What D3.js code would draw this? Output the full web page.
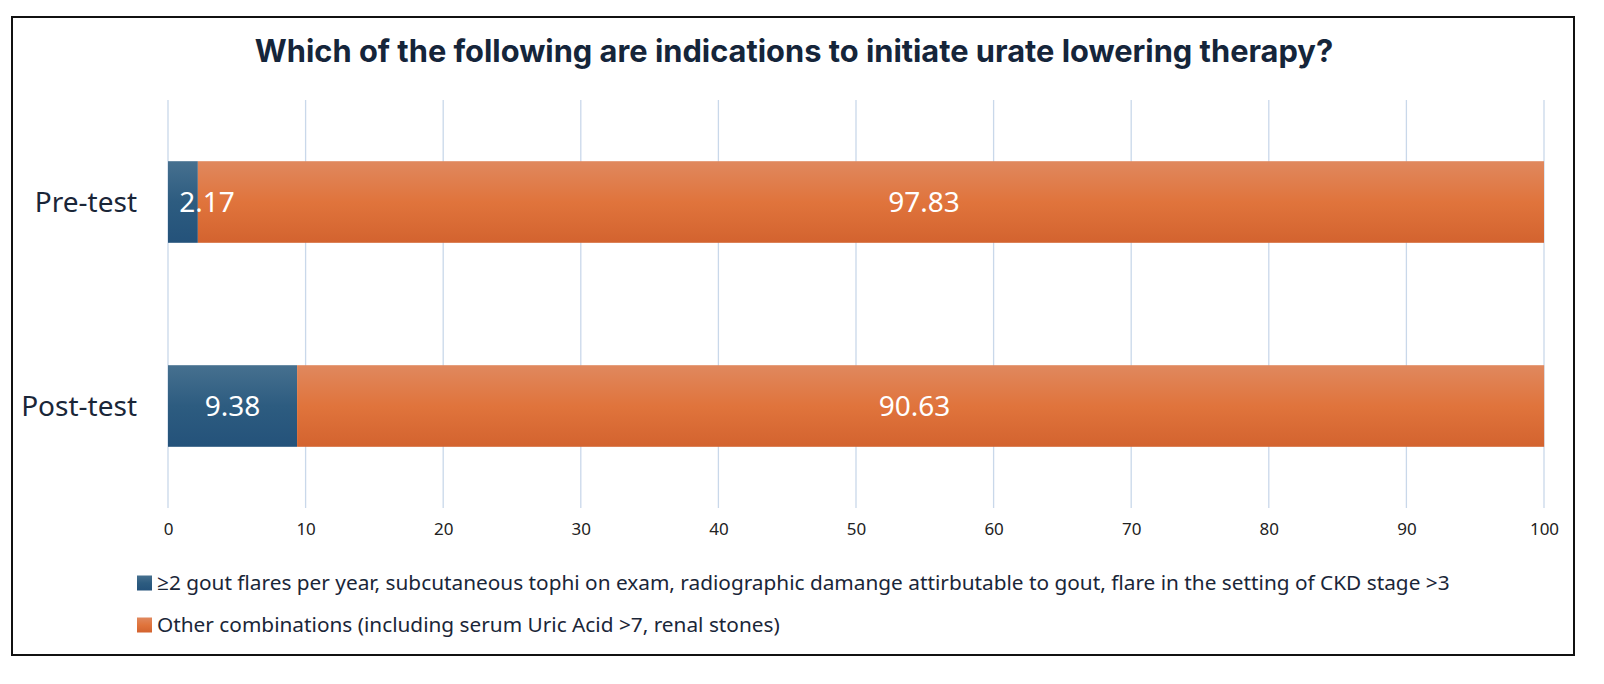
<!DOCTYPE html>
<html>
<head>
<meta charset="utf-8">
<script src="https://cdn.jsdelivr.net/npm/d3@7"></script>
<style>
  body { margin: 0; background: #fff; }
  svg { display: block; font-family: "Noto Sans", "Open Sans", sans-serif; }
</style>
</head>
<body>
<svg id="chart" width="1604" height="684"></svg>
<script>
const categories = ["Pre-test", "Post-test"];
const seriesNames = [
  "\u22652 gout flares per year, subcutaneous tophi on exam, radiographic damange attirbutable to gout, flare in the setting of CKD stage >3",
  "Other combinations (including serum Uric Acid >7, renal stones)"
];
const series1 = [2.17, 9.38];
const series2 = [97.83, 90.63];
const xTicks = [0, 10, 20, 30, 40, 50, 60, 70, 80, 90, 100];

const svg = d3.select("#chart");
const defs = svg.append("defs");

// gradients like the office bar fill
const grads = [
  { id: "gBlue", stops: ["#46708f", "#2d5c80", "#24527a"] },
  { id: "gOrange", stops: ["#e0885e", "#e0743c", "#d3632f"] }
];
grads.forEach(g => {
  const lg = defs.append("linearGradient").attr("id", g.id)
    .attr("x1", 0).attr("y1", 0).attr("x2", 0).attr("y2", 1);
  g.stops.forEach((c, i) => lg.append("stop")
    .attr("offset", i / (g.stops.length - 1)).attr("stop-color", c));
});

// outer frame
svg.append("rect")
  .attr("x", 12).attr("y", 17).attr("width", 1562).attr("height", 638)
  .attr("fill", "#fff").attr("stroke", "#111").attr("stroke-width", 2);

svg.append("text")
  .attr("x", 794).attr("y", 62)
  .attr("text-anchor", "middle")
  .style("font-family", "Inter, 'Noto Sans', sans-serif")
  .style("font-weight", 700)
  .style("font-size", "30.8px")
  .style("fill", "#15253a")
  .text("Which of the following are indications to initiate urate lowering therapy?");

const x = d3.scaleLinear().domain([0, 100]).range([168, 1544]);
const y = d3.scaleBand().domain(categories).range([100, 508]).paddingInner(0.6).paddingOuter(0.3);

// grid
svg.append("g")
  .selectAll("line")
  .data(xTicks)
  .join("line")
  .attr("x1", d => x(d)).attr("x2", d => x(d))
  .attr("y1", 100).attr("y2", 508)
  .attr("stroke", "#c9d8ea").attr("stroke-width", 1.3);

// x axis labels
const xAxis = svg.append("g")
  .attr("transform", "translate(0,508)")
  .call(d3.axisBottom(x).tickValues(xTicks).tickSize(0).tickPadding(15));
xAxis.select(".domain").remove();
xAxis.selectAll("text")
  .style("font-size", "17px")
  .style("fill", "#222")
  .style("font-family", "'Noto Sans', sans-serif");

// category labels
svg.append("g")
  .selectAll("text")
  .data(categories)
  .join("text")
  .attr("x", 137)
  .attr("y", d => y(d) + y.bandwidth() / 2)
  .attr("dy", "0.36em")
  .attr("text-anchor", "end")
  .style("font-size", "28px")
  .style("fill", "#1a2638")
  .text(d => d);

const stackData = categories.map((c, i) => ({ cat: c, a: series1[i], b: series2[i] }));
const stack = d3.stack().keys(["a", "b"])(stackData);
const fills = ["url(#gBlue)", "url(#gOrange)"];

svg.append("g").selectAll("g")
  .data(stack)
  .join("g")
  .attr("fill", (d, i) => fills[i])
  .selectAll("rect")
  .data(d => d)
  .join("rect")
  .attr("x", d => x(d[0]))
  .attr("y", d => y(d.data.cat))
  .attr("width", d => x(d[1]) - x(d[0]))
  .attr("height", y.bandwidth());

// value labels, drawn above all bars; nudges copy where the source put them
const labelNudge = [[24, 53], [0, -6]];
svg.append("g").selectAll("g")
  .data(stack)
  .join("g")
  .each(function (layer, li) {
    d3.select(this).selectAll("text")
      .data(layer)
      .join("text")
      .attr("x", (d, ri) => (x(d[0]) + x(d[1])) / 2 + labelNudge[ri][li])
      .attr("y", d => y(d.data.cat) + y.bandwidth() / 2)
      .attr("dy", "0.36em")
      .attr("text-anchor", "middle")
      .style("font-size", "28px")
      .style("fill", "#fff")
      .text(d => (d[1] - d[0]).toFixed(2));
  });

// legend
const legend = svg.append("g").selectAll("g")
  .data(seriesNames)
  .join("g")
  .attr("transform", (d, i) => `translate(137,${583 + i * 42})`);
legend.append("rect")
  .attr("x", 0).attr("y", -7.5).attr("width", 15).attr("height", 15)
  .attr("fill", (d, i) => fills[i]);
legend.append("text")
  .attr("x", 20).attr("y", 0).attr("dy", "0.35em")
  .style("font-size", "20.8px")
  .style("fill", "#1a2638")
  .text(d => d);
</script>
</body>
</html>
